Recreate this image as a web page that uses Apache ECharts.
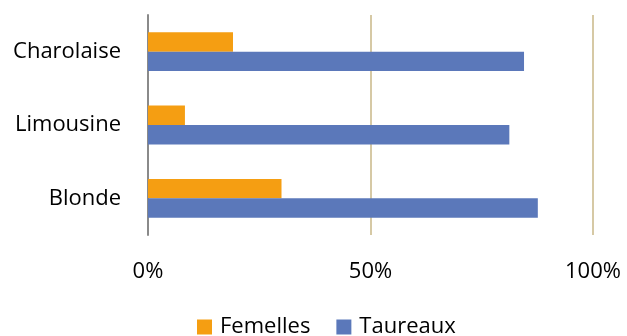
<!DOCTYPE html>
<html lang="fr">
<head>
    <meta charset="UTF-8">
    <title>Races</title>
    <script src="https://cdn.jsdelivr.net/npm/echarts@6/dist/echarts.min.js"></script>
    <style>
        html, body { margin: 0; padding: 0; background: #fff; }
        #main { width: 627px; height: 336px; }
    </style>
</head>
<body>
<div id="main"></div>
<script type="text/javascript">
    var races = ['Charolaise', 'Limousine', 'Blonde'];
    var femelles = [19.1, 8.3, 30.0];
    var taureaux = [84.5, 81.2, 87.6];
    var xTicks = [0, 50, 100];

    var font = '"Open Sans", sans-serif';
    var myChart = echarts.init(document.getElementById('main'));
    myChart.setOption({
        animation: false,
        textStyle: { fontFamily: font },
        grid: { left: 148, right: 34, top: 15, bottom: 101 },
        legend: {
            data: ['Femelles', 'Taureaux'],
            bottom: -7,
            left: 192,
            itemWidth: 15,
            itemHeight: 15,
            itemGap: 26,
            icon: 'rect',
            textStyle: { fontSize: 22, color: '#000', fontFamily: font, padding: [0, 0, 0, 3] }
        },
        xAxis: {
            type: 'value',
            min: xTicks[0],
            max: xTicks[xTicks.length - 1],
            interval: 50,
            axisLine: { show: false },
            axisTick: { show: false },
            axisLabel: {
                margin: 26,
                fontSize: 22,
                color: '#000',
                fontFamily: font,
                formatter: function (v) { return v + '%'; }
            },
            splitLine: {
                show: true,
                lineStyle: { color: ['transparent', '#D6C9A5', '#D6C9A5'], width: 2 }
            }
        },
        yAxis: {
            type: 'category',
            inverse: true,
            data: races,
            axisLine: { show: true, lineStyle: { color: '#8A8A8A', width: 2 } },
            axisTick: { show: false },
            axisLabel: { margin: 27, fontSize: 22, color: '#000', fontFamily: font }
        },
        series: [
            {
                name: 'Femelles',
                type: 'bar',
                barGap: '0%',
                barCategoryGap: '47%',
                itemStyle: { color: '#F59E12' },
                data: femelles
            },
            {
                name: 'Taureaux',
                type: 'bar',
                barGap: '0%',
                barCategoryGap: '47%',
                itemStyle: { color: '#5B78BA' },
                data: taureaux
            }
        ]
    });
</script>
</body>
</html>
